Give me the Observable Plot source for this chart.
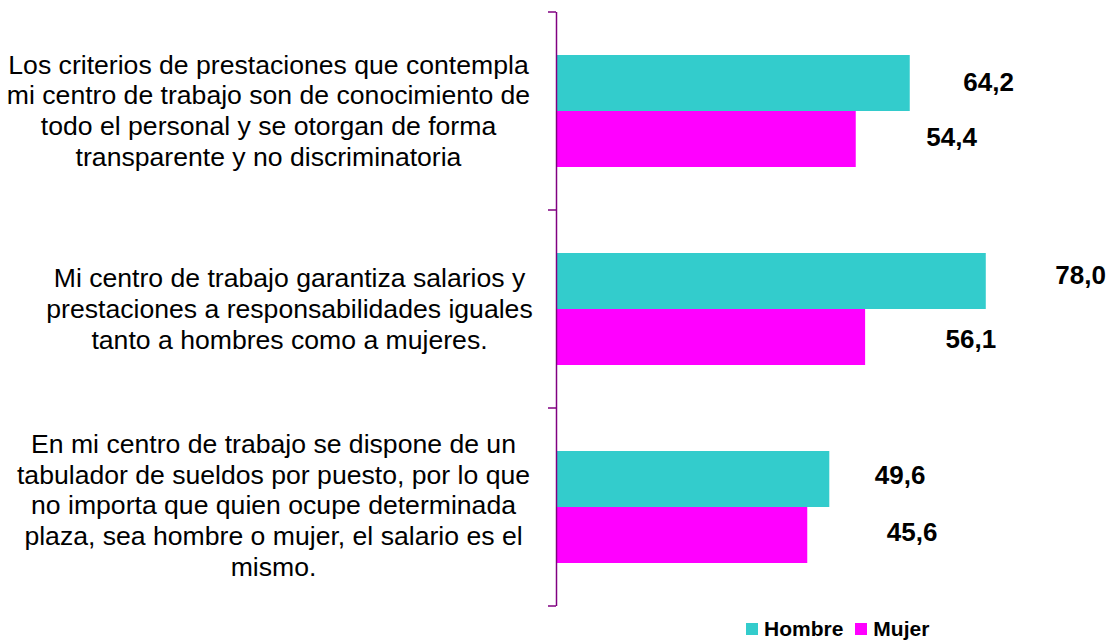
<!DOCTYPE html>
<html><head><meta charset="utf-8">
<script src="https://cdn.jsdelivr.net/npm/d3@7"></script>
<script src="https://cdn.jsdelivr.net/npm/@observablehq/plot@0.6"></script>
<style>
body{margin:0;background:#fff;font-family:"Liberation Sans",Arial,sans-serif;}
#wrap{position:relative;width:1115px;height:642px;overflow:hidden;}
#legend{position:absolute;left:746px;top:618px;display:flex;align-items:center;font-weight:bold;font-size:21px;line-height:21px;color:#000;}
#legend .sw{width:12px;height:12px;display:inline-block;margin-right:6px;}
#legend .item{display:flex;align-items:center;margin-right:12px;}
</style></head><body>
<div id="wrap"><div id="chart"></div><div id="legend"></div></div>
<script>
// ---- data ----
const categories = [
  "Los criterios de prestaciones que contempla\nmi centro de trabajo son de conocimiento de\ntodo el personal y se otorgan de forma\ntransparente y no discriminatoria",
  "Mi centro de trabajo garantiza salarios y\nprestaciones a responsabilidades iguales\ntanto a hombres como a mujeres.",
  "En mi centro de trabajo se dispone de un\ntabulador de sueldos por puesto, por lo que\nno importa que quien ocupe determinada\nplaza, sea hombre o mujer, el salario es el\nmismo."
];
const series = ["Hombre", "Mujer"];
const hombre = [64.2, 78.0, 49.6];
const mujer = [54.4, 56.1, 45.6];

// ---- styling / layout ----
const colors = ["#33CCCC", "#FF00FF"];
const axisColor = "#800080";
const catDx = [-288, -267, -283];
const catDy = [-1.5, -1.5, -3];
const valDx = [53, 70, 69, 80, 45, 79];
const valDy = [-1, -2, -6, 2, -4, -3];

const rows = categories.flatMap((c, i) => [
  {cat: c, serie: series[0], value: hombre[i]},
  {cat: c, serie: series[1], value: mujer[i]}
]);
const fmt = v => v.toFixed(1).replace(".", ",");

const chart = Plot.plot({
  width: 1115, height: 610,
  marginLeft: 556, marginRight: 8, marginTop: 12, marginBottom: 4,
  x: {domain: [0, 100], axis: null},
  y: {domain: series, axis: null, paddingInner: 0, paddingOuter: 0.737},
  fy: {domain: categories, axis: null, padding: 0},
  color: {domain: series, range: colors},
  style: {fontFamily: "'Liberation Sans', Arial, sans-serif", background: "#fff"},
  marks: [
    Plot.barX(rows, {fy: "cat", y: "serie", x: "value", fill: "serie"}),
    Plot.ruleX([0], {stroke: axisColor, strokeWidth: 1.5}),
    ...categories.map((c, i) => Plot.text([c], {
      fy: d => d, text: d => d, frameAnchor: "left", textAnchor: "middle",
      dx: catDx[i], dy: catDy[i], fontSize: 26.6, lineHeight: 1.16, fill: "#000"
    })),
    ...rows.map((r, i) => Plot.text([r], {
      fy: "cat", y: "serie", x: "value", text: d => fmt(d.value),
      textAnchor: "start", dx: valDx[i], dy: valDy[i],
      fontWeight: "bold", fontSize: 26, fill: "#000"
    }))
  ]
});

// boundary ticks on the category axis
const fy = chart.scale("fy");
const x0 = chart.scale("x").apply(0);
const bounds = [...categories.map(c => fy.apply(c)), fy.apply(categories[categories.length - 1]) + fy.bandwidth];
d3.select(chart).append("g")
  .attr("stroke", axisColor).attr("stroke-width", 1.5)
  .selectAll("line").data(bounds).join("line")
  .attr("x1", x0 - 8).attr("x2", x0).attr("y1", d => d).attr("y2", d => d);

document.getElementById("chart").appendChild(chart);

// legend
const legend = d3.select("#legend");
series.forEach((s, i) => {
  const it = legend.append("div").attr("class", "item");
  it.append("span").attr("class", "sw").style("background", colors[i]);
  it.append("span").text(s);
});
</script>
</body></html>
